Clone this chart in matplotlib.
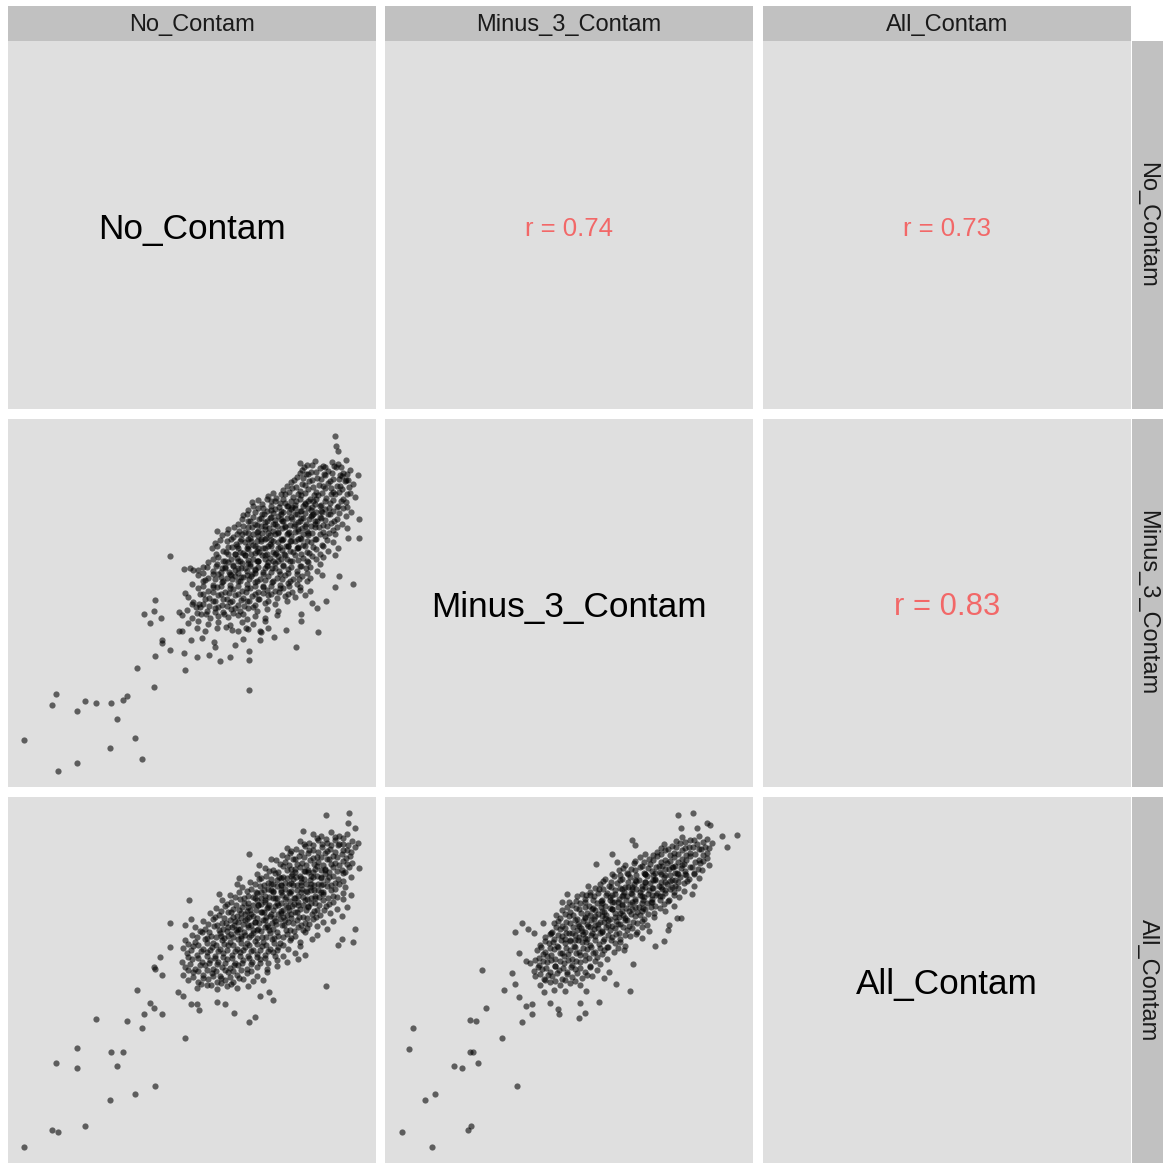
import numpy as np
import matplotlib
matplotlib.use("Agg")
import matplotlib.pyplot as plt

# variable names (strip labels + diagonal labels)
VARS = ["No_Contam", "Minus_3_Contam", "All_Contam"]

# correlations shown in the upper triangle
R_12 = 0.74
R_13 = 0.73
R_23 = 0.83

# scatter points (arbitrary 0-110 scale, no ticks shown)
# No_Contam (x) vs Minus_3_Contam (y)
nc_m3_points = [
    (98.0, 105.4), (98.5, 102.4), (99.0, 100.9), (48.7, 69.2), (62.7, 76.9), (105.0, 93.6),
    (105.3, 80.4), (105.3, 74.8), (103.4, 60.8), (93.0, 46.4), (86.3, 42.1), (72.2, 29.0),
    (72.3, 38.0), (72.2, 40.9), (63.7, 37.8), (66.6, 39.0), (60.4, 39.7), (56.8, 38.9),
    (53.0, 35.0), (52.8, 40.2), (48.6, 41.0), (44.1, 39.3), (46.1, 43.1), (46.1, 44.1),
    (43.7, 30.0), (38.7, 35.6), (44.2, 56.1), (43.7, 52.7), (40.7, 52.0), (42.6, 49.3),
    (45.8, 50.8), (14.4, 27.8), (13.2, 24.5), (20.7, 22.9), (23.2, 25.7), (26.5, 25.1),
    (31.0, 25.3), (34.5, 26.2), (35.8, 27.2), (32.6, 20.5), (38.1, 14.8), (30.7, 11.7),
    (40.3, 8.3), (20.6, 7.1), (15.0, 4.8), (4.7, 14.0), (79.8, 44.9), (83.3, 47.1),
    (88.0, 49.7), (87.8, 51.9), (95.3, 55.9), (98.0, 60.0), (99.2, 63.2), (91.3, 55.3),
    (92.7, 53.6), (51.3, 46.7), (52.1, 46.7), (54.8, 44.2), (58.3, 44.7), (62.0, 42.1),
    (61.7, 43.4), (65.5, 47.9), (68.0, 42.7), (70.5, 44.4), (75.7, 44.1), (76.0, 46.4),
    (78.1, 47.6), (71.4, 47.7), (69.0, 46.9), (51.2, 52.5), (53.0, 58.1), (52.8, 65.4),
    (54.6, 65.7), (55.1, 54.9), (57.1, 65.1), (57.4, 54.9),
    (87.5, 97.3), (89.6, 96.5), (92.1, 97.8), (94.4, 96.2), (97.2, 97.6), (99.1, 96.8), (101.4, 98.1),
    (88.2, 95.1), (90.8, 94.6), (93.6, 95.7), (96.0, 94.8), (98.4, 95.9), (100.6, 94.3), (102.7, 95.2),
    (86.8, 93.0), (89.4, 93.9), (92.6, 92.8), (95.1, 93.6), (97.4, 92.5), (100.2, 93.4), (102.1, 92.2),
    (84.9, 91.6), (88.1, 90.9), (90.4, 91.8), (93.2, 90.6), (96.1, 91.3), (98.6, 90.4), (101.0, 91.7),
    (103.6, 90.8), (82.4, 89.0), (85.1, 89.8), (87.6, 88.7), (90.1, 89.5), (92.4, 88.4), (95.2, 89.7),
    (97.6, 88.6), (100.1, 89.3), (102.6, 88.1),
    (78.1, 87.2), (80.4, 86.6), (83.1, 87.8), (85.6, 86.9), (88.0, 87.6), (90.6, 86.3), (93.1, 87.5),
    (95.4, 86.8), (98.1, 87.9), (100.4, 86.5), (104.1, 87.0),
    (73.2, 85.6), (76.1, 84.8), (78.9, 85.9), (81.6, 85.1), (84.1, 84.4), (86.4, 85.7), (89.1, 84.9),
    (91.6, 85.8), (94.0, 84.6), (96.6, 85.3), (99.1, 84.2), (101.5, 85.6),
    (72.1, 83.0), (75.0, 83.8), (77.6, 82.7), (80.1, 83.5), (82.4, 82.6), (85.1, 83.9), (87.6, 82.9),
    (90.0, 83.6), (92.5, 82.4), (95.1, 83.3), (97.6, 82.8), (100.4, 83.7), (103.0, 82.5),
    (70.6, 81.7), (73.4, 80.9), (76.1, 81.8), (78.6, 80.6), (81.0, 81.4), (83.6, 80.8), (86.1, 81.9),
    (88.4, 80.7), (91.1, 81.5), (93.6, 80.9), (96.0, 81.8), (98.6, 80.5), (101.4, 81.2),
    (69.1, 79.0), (71.9, 79.8), (74.6, 78.7), (77.1, 79.6), (79.4, 78.9), (82.1, 79.9), (84.6, 78.6),
    (87.1, 79.4), (89.4, 78.8), (92.1, 79.7), (94.6, 78.5), (97.0, 79.3), (100.1, 78.9),
    (66.1, 77.5), (69.4, 76.8), (72.1, 77.9), (74.6, 76.6), (77.0, 77.4), (79.6, 76.9), (82.1, 77.8),
    (84.4, 76.5), (87.1, 77.3), (89.6, 76.7), (92.0, 77.9), (94.6, 76.4), (97.4, 77.2), (101.6, 77.6),
    (64.1, 75.6), (67.4, 74.9), (70.1, 75.8), (72.6, 74.6), (75.1, 75.4), (77.4, 74.8), (80.1, 75.9),
    (82.6, 74.5), (85.0, 75.3), (87.6, 74.7), (90.1, 75.7), (92.4, 74.4), (95.1, 75.2), (98.0, 75.8),
    (101.9, 74.6),
    (62.1, 73.1), (65.6, 73.9), (68.4, 72.8), (71.1, 73.6), (73.6, 72.6), (76.0, 73.8), (78.6, 72.9),
    (81.1, 73.5), (83.4, 72.4), (86.1, 73.7), (88.6, 72.7), (91.0, 73.4), (94.1, 72.5), (97.6, 73.6),
    (61.1, 71.6), (64.4, 70.8), (67.1, 71.9), (69.6, 70.6), (72.0, 71.3), (74.6, 70.9), (77.1, 71.8),
    (79.4, 70.4), (82.1, 71.2), (84.6, 70.7), (87.0, 71.7), (89.6, 70.5), (92.4, 71.4), (96.1, 70.8),
    (99.0, 71.6),
    (63.1, 69.0), (66.0, 69.8), (68.6, 68.7), (71.1, 69.5), (73.4, 68.5), (76.1, 69.7), (78.6, 68.8),
    (81.0, 69.4), (83.6, 68.4), (86.1, 69.6), (88.4, 68.6), (91.1, 69.3), (94.6, 68.9), (98.1, 69.7),
    (60.1, 67.6), (62.6, 66.9), (65.1, 67.8), (67.4, 66.6), (70.1, 67.3), (72.6, 66.8), (75.0, 67.9),
    (77.6, 66.5), (80.1, 67.2), (82.4, 66.7), (85.1, 67.7), (87.6, 66.4), (90.0, 67.4), (93.6, 66.9),
    (55.6, 65.2), (58.4, 65.9), (61.6, 64.8), (64.1, 65.6), (66.4, 64.6), (69.1, 65.8), (71.6, 64.9),
    (74.0, 65.5), (76.6, 64.5), (79.1, 65.7), (81.4, 64.7), (84.1, 65.4), (86.6, 64.8), (89.4, 65.6),
    (92.6, 64.9),
    (57.1, 63.6), (60.1, 62.8), (63.0, 63.9), (65.6, 62.6), (68.1, 63.4), (70.4, 62.9), (73.1, 63.8),
    (75.6, 62.5), (78.0, 63.3), (80.6, 62.7), (83.1, 63.7), (85.4, 62.4), (88.1, 63.2), (90.6, 62.8),
    (94.1, 63.6),
    (55.1, 61.0), (58.6, 61.8), (61.4, 60.7), (64.1, 61.6), (66.6, 60.6), (69.0, 61.7), (71.6, 60.8),
    (74.1, 61.4), (76.4, 60.4), (79.1, 61.6), (81.6, 60.7), (84.0, 61.3), (86.6, 60.9), (89.6, 61.7),
    (57.1, 59.6), (60.0, 58.8), (62.6, 59.9), (65.1, 58.6), (67.4, 59.3), (70.1, 58.9), (72.6, 59.8),
    (75.0, 58.5), (77.6, 59.2), (80.1, 58.7), (82.4, 59.7), (85.1, 58.4), (87.6, 59.1), (90.6, 58.8),
    (54.1, 57.0), (57.6, 57.8), (60.4, 56.7), (63.1, 57.5), (65.6, 56.5), (68.0, 57.7), (70.6, 56.8),
    (73.1, 57.4), (75.4, 56.4), (78.1, 57.6), (80.6, 56.6), (83.0, 57.3), (86.1, 56.9), (89.1, 57.6),
    (55.6, 55.6), (58.6, 54.8), (61.4, 55.9), (64.1, 54.6), (66.6, 55.4), (69.0, 54.7), (71.6, 55.8),
    (74.1, 54.5), (77.0, 55.2), (80.1, 54.9), (83.6, 55.7),
    (53.6, 53.2), (56.4, 53.9), (59.6, 52.8), (62.1, 53.7), (64.6, 52.6), (67.0, 53.5), (69.6, 52.9),
    (72.1, 53.8), (74.6, 52.7), (77.6, 53.4), (81.1, 52.8),
    (52.1, 51.6), (55.1, 50.8), (58.0, 51.9), (60.6, 50.6), (63.1, 51.4), (66.0, 50.9), (69.1, 51.7),
    (71.6, 50.5), (74.1, 51.3), (77.1, 50.8), (80.6, 51.6),
    (54.1, 49.1), (57.0, 49.8), (60.1, 48.9), (63.0, 49.6), (66.6, 48.7), (70.1, 49.5), (73.6, 49.0),
    (77.1, 49.7), (56.6, 47.6), (59.1, 46.9), (62.6, 47.8), (67.1, 47.1), (72.1, 47.4), (75.6, 46.8),
    # denser core
    (88.8, 96.0), (91.3, 96.5), (95.2, 95.9), (97.8, 96.4), (100.0, 96.1),
    (87.6, 94.3), (90.1, 93.8), (92.4, 94.4), (94.8, 93.9), (97.3, 94.2), (99.6, 93.7), (101.6, 94.0),
    (85.9, 92.1), (88.6, 92.6), (91.3, 92.0), (94.0, 92.4), (96.5, 91.9), (99.2, 92.5), (101.4, 92.1),
    (83.6, 90.4), (86.4, 89.9), (89.0, 90.5), (91.5, 90.0), (94.4, 90.3), (97.0, 89.8), (99.6, 90.4),
    (102.2, 90.0), (79.6, 88.3), (81.9, 87.9), (84.3, 88.4), (86.9, 87.8), (89.2, 88.2), (91.8, 87.7),
    (94.2, 88.3), (96.8, 87.9), (99.2, 88.4), (101.6, 87.8),
    (75.0, 86.1), (77.6, 86.5), (80.1, 85.9), (82.6, 86.4), (85.0, 85.8), (87.6, 86.3), (90.1, 85.9),
    (92.4, 86.4), (95.1, 85.8), (97.6, 86.2), (100.0, 85.9),
    (73.6, 84.3), (76.4, 83.8), (78.9, 84.4), (81.3, 83.9), (83.6, 84.2), (86.1, 83.7), (88.4, 84.3),
    (91.1, 83.9), (93.6, 84.4), (96.2, 83.8), (98.6, 84.1), (101.6, 83.9),
    (71.6, 82.0), (74.2, 82.4), (76.9, 81.9), (79.4, 82.3), (81.8, 81.8), (84.2, 82.4), (86.6, 81.9),
    (89.1, 82.2), (91.6, 81.8), (94.2, 82.4), (96.6, 81.9), (99.4, 82.3),
    (70.2, 80.3), (72.6, 79.9), (75.2, 80.4), (77.8, 79.8), (80.2, 80.2), (82.6, 79.7), (85.2, 80.3),
    (87.6, 79.9), (90.2, 80.4), (92.6, 79.8), (95.2, 80.2), (97.8, 79.9),
    (67.8, 78.0), (70.6, 78.4), (73.2, 77.9), (75.8, 78.3), (78.2, 77.8), (80.8, 78.4), (83.2, 77.9),
    (85.8, 78.2), (88.2, 77.8), (90.8, 78.4), (93.2, 77.9), (95.8, 78.3), (98.6, 78.0),
    (65.6, 76.3), (68.6, 75.9), (71.2, 76.4), (73.6, 75.8), (76.1, 76.2), (78.6, 75.7), (81.1, 76.3),
    (83.6, 75.9), (86.1, 76.4), (88.6, 75.8), (91.1, 76.2), (93.6, 75.9), (96.4, 76.3),
    (63.6, 74.0), (66.8, 74.4), (69.6, 73.9), (72.1, 74.3), (74.6, 73.8), (77.1, 74.4), (79.6, 73.9),
    (82.1, 74.2), (84.6, 73.8), (87.1, 74.4), (89.6, 73.9), (92.1, 74.3), (95.6, 74.0),
    (62.8, 72.3), (66.0, 71.9), (68.8, 72.4), (71.6, 71.8), (74.0, 72.2), (76.6, 71.7), (79.0, 72.3),
    (81.6, 71.9), (84.0, 72.4), (86.6, 71.8), (89.0, 72.2), (91.6, 71.9), (94.6, 72.3),
    (62.4, 70.0), (65.4, 70.4), (68.0, 69.9), (70.4, 70.3), (72.8, 69.8), (75.4, 70.4), (77.8, 69.9),
    (80.4, 70.2), (82.8, 69.8), (85.4, 70.4), (87.8, 69.9), (90.4, 70.3), (93.6, 70.0),
    (61.6, 68.3), (64.4, 67.9), (67.0, 68.4), (69.6, 67.8), (72.0, 68.2), (74.6, 67.7), (77.0, 68.3),
    (79.6, 67.9), (82.0, 68.4), (84.6, 67.8), (87.0, 68.2), (89.6, 67.9), (92.4, 68.3),
    (59.6, 66.0), (62.4, 66.4), (65.0, 65.9), (67.6, 66.3), (70.0, 65.8), (72.6, 66.4), (75.0, 65.9),
    (77.6, 66.2), (80.0, 65.8), (82.6, 66.4), (85.0, 65.9), (87.8, 66.3), (90.6, 66.0),
    (58.6, 64.3), (61.4, 63.9), (64.0, 64.4), (66.6, 63.8), (69.0, 64.2), (71.6, 63.7), (74.0, 64.3),
    (76.6, 63.9), (79.0, 64.4), (81.6, 63.8), (84.0, 64.2), (86.6, 63.9), (89.6, 64.3),
    (59.2, 62.0), (62.0, 62.4), (64.6, 61.9), (67.2, 62.3), (69.6, 61.8), (72.2, 62.4), (74.6, 61.9),
    (77.2, 62.2), (79.6, 61.8), (82.2, 62.4), (84.6, 61.9), (87.4, 62.3),
    (58.6, 60.3), (61.4, 59.9), (64.0, 60.4), (66.6, 59.8), (69.0, 60.2), (71.6, 59.7), (74.0, 60.3),
    (76.6, 59.9), (79.0, 60.4), (81.6, 59.8), (84.4, 60.2), (87.6, 59.9),
    (58.6, 58.0), (61.4, 58.4), (64.0, 57.9), (66.4, 58.3), (69.0, 57.8), (71.4, 58.4), (74.0, 57.9),
    (76.4, 58.2), (79.0, 57.8), (81.4, 58.4), (84.0, 57.9),
    (59.0, 56.3), (62.0, 55.9), (64.6, 56.4), (67.2, 55.8), (69.8, 56.2), (72.4, 55.7), (75.0, 56.3),
    (78.0, 55.9), (57.6, 54.0), (60.4, 54.4), (63.0, 53.9), (65.6, 54.3), (68.2, 53.8), (70.8, 54.4),
    (73.6, 53.9), (56.6, 52.3), (59.4, 51.9), (62.0, 52.4), (64.8, 51.8), (67.6, 52.2), (70.4, 51.9),
    # darkest centre
    (83.0, 85.2), (86.0, 84.7), (89.0, 85.3), (92.0, 84.8),
    (79.0, 83.1), (82.0, 82.7), (85.0, 83.3), (88.0, 82.8), (91.0, 83.2), (94.0, 82.9),
    (76.0, 80.6), (79.0, 81.1), (82.0, 80.5), (85.0, 81.0), (88.0, 80.6), (91.0, 81.2), (94.0, 80.7),
    (74.0, 78.8), (77.0, 78.3), (80.0, 78.9), (83.0, 78.4), (86.0, 78.8), (89.0, 78.3), (92.0, 78.9),
    (72.0, 76.2), (75.0, 76.7), (78.0, 76.1), (81.0, 76.6), (84.0, 76.2), (87.0, 76.7), (90.0, 76.3),
    (70.0, 74.4), (73.0, 73.9), (76.0, 74.5), (79.0, 74.0), (82.0, 74.4), (85.0, 73.9), (88.0, 74.5),
    (69.0, 71.8), (72.0, 72.3), (75.0, 71.7), (78.0, 72.2), (81.0, 71.8), (84.0, 72.3), (87.0, 71.9),
    (68.0, 70.0), (71.0, 69.5), (74.0, 70.1), (77.0, 69.6), (80.0, 70.0), (83.0, 69.5),
    (66.0, 67.4), (69.0, 67.9), (72.0, 67.3), (75.0, 67.8), (78.0, 67.4), (81.0, 67.9),
    (65.0, 65.6), (68.0, 65.1), (71.0, 65.7), (74.0, 65.2), (77.0, 65.6),
    (64.0, 63.0), (67.0, 63.5), (70.0, 62.9), (73.0, 63.4),
]

# No_Contam (x) vs All_Contam (y)
nc_all_points = [
    (95.4, 104.9), (102.4, 105.5), (102.0, 102.7), (104.2, 101.1), (105.0, 96.4), (105.3, 89.0),
    (88.4, 100.2), (72.3, 93.3), (79.0, 91.7), (75.2, 89.9), (69.4, 86.1), (68.6, 84.1),
    (63.3, 81.2), (54.4, 79.2), (48.6, 72.5), (53.1, 71.9), (54.8, 73.7), (48.7, 65.3),
    (45.7, 62.1), (43.8, 59.2), (44.1, 58.4), (46.1, 56.8), (38.7, 52.2), (42.5, 48.4),
    (43.8, 46.9), (40.7, 44.9), (46.1, 44.9), (35.8, 42.9), (40.3, 40.8), (26.5, 43.3),
    (53.0, 37.6), (20.7, 34.6), (31.0, 33.6), (34.6, 33.6), (14.5, 30.2), (20.7, 28.6),
    (32.7, 29.4), (44.1, 23.1), (38.1, 20.9), (30.7, 18.9), (23.2, 11.1), (13.3, 10.1),
    (15.1, 9.3), (4.7, 4.9), (95.5, 53.5), (72.3, 42.6), (74.1, 43.9), (67.9, 45.2),
    (79.5, 49.2), (78.2, 51.5), (75.5, 50.5), (54.8, 48.1), (57.3, 46.3), (56.7, 47.9),
    (51.0, 51.6), (52.6, 50.4), (103.4, 66.6), (104.0, 70.7), (102.8, 80.9), (98.9, 65.9),
    (100.3, 67.6), (65.0, 48.1), (62.7, 48.7),
    (91.5, 99.3), (94.0, 98.5), (96.8, 99.7), (99.2, 98.6), (101.6, 99.1),
    (87.6, 97.0), (90.4, 96.4), (92.9, 97.5), (95.6, 96.6), (98.1, 97.3), (100.6, 96.2), (103.1, 97.0),
    (83.6, 95.1), (86.4, 94.6), (89.1, 95.6), (91.6, 94.4), (94.1, 95.3), (96.6, 94.7), (99.0, 95.8),
    (101.6, 94.5), (104.0, 95.2),
    (82.1, 92.8), (84.6, 93.6), (87.4, 92.6), (90.0, 93.4), (92.6, 92.4), (95.0, 93.6), (97.6, 92.7),
    (100.1, 93.3), (102.6, 92.5),
    (80.4, 91.4), (83.0, 90.7), (85.6, 91.7), (88.1, 90.5), (90.6, 91.3), (93.1, 90.8), (95.6, 91.8),
    (98.0, 90.6), (100.6, 91.2), (103.1, 90.4),
    (77.1, 89.0), (79.6, 88.4), (82.4, 89.5), (85.0, 88.6), (87.6, 89.3), (90.1, 88.5), (92.6, 89.6),
    (95.1, 88.7), (97.6, 89.2), (100.1, 88.3), (102.4, 89.4),
    (74.6, 87.2), (77.4, 86.6), (80.1, 87.6), (82.6, 86.4), (85.1, 87.3), (87.6, 86.7), (90.0, 87.8),
    (92.6, 86.5), (95.1, 87.1), (97.6, 86.6), (100.4, 87.5), (102.9, 86.3),
    (72.6, 84.8), (75.4, 85.6), (78.1, 84.6), (80.6, 85.4), (83.1, 84.4), (85.6, 85.7), (88.0, 84.8),
    (90.6, 85.3), (93.1, 84.3), (95.6, 85.5), (98.1, 84.6), (100.6, 85.2),
    (70.1, 83.4), (73.0, 82.6), (75.6, 83.7), (78.1, 82.8), (80.6, 83.5), (83.1, 82.5), (85.6, 83.8),
    (88.1, 82.7), (90.6, 83.3), (93.0, 82.4), (95.6, 83.6), (98.1, 82.6), (101.1, 83.2),
    (66.6, 80.8), (69.4, 81.6), (72.1, 80.6), (74.6, 81.4), (77.1, 80.5), (79.6, 81.7), (82.1, 80.7),
    (84.6, 81.3), (87.1, 80.4), (89.6, 81.6), (92.1, 80.6), (94.6, 81.2), (97.4, 80.4), (100.4, 81.5),
    (64.1, 79.2), (66.9, 78.6), (69.6, 79.6), (72.1, 78.4), (74.6, 79.3), (77.1, 78.7), (79.6, 79.8),
    (82.0, 78.5), (84.6, 79.1), (87.1, 78.6), (89.6, 79.7), (92.1, 78.3), (94.6, 79.2), (97.6, 78.8),
    (100.6, 79.5),
    (62.4, 76.9), (65.1, 77.6), (67.6, 76.5), (70.1, 77.3), (72.6, 76.4), (75.1, 77.7), (77.6, 76.8),
    (80.1, 77.4), (82.6, 76.3), (85.1, 77.5), (87.6, 76.6), (90.1, 77.2), (92.6, 76.4), (95.4, 77.6),
    (98.6, 76.7), (101.6, 77.3),
    (60.6, 75.4), (63.4, 74.7), (66.1, 75.7), (68.6, 74.5), (71.1, 75.2), (73.6, 74.6), (76.1, 75.8),
    (78.6, 74.4), (81.1, 75.1), (83.6, 74.7), (86.1, 75.6), (88.6, 74.3), (91.1, 75.2), (93.6, 74.8),
    (96.6, 75.5), (100.1, 74.6),
    (58.6, 72.9), (61.4, 73.6), (64.1, 72.5), (66.6, 73.4), (69.1, 72.6), (71.6, 73.7), (74.1, 72.8),
    (76.6, 73.3), (79.1, 72.4), (81.6, 73.5), (84.1, 72.7), (86.6, 73.2), (89.1, 72.4), (91.6, 73.6),
    (94.4, 72.8), (97.6, 73.1),
    (56.1, 71.3), (59.1, 70.6), (61.9, 71.6), (64.6, 70.5), (67.1, 71.2), (69.6, 70.7), (72.1, 71.8),
    (74.6, 70.4), (77.1, 71.1), (79.6, 70.6), (82.1, 71.7), (84.6, 70.3), (87.1, 71.2), (89.6, 70.8),
    (92.6, 71.5), (95.6, 70.6),
    (55.1, 68.8), (58.1, 69.6), (60.9, 68.6), (63.6, 69.4), (66.1, 68.4), (68.6, 69.7), (71.1, 68.8),
    (73.6, 69.3), (76.1, 68.3), (78.6, 69.5), (81.1, 68.6), (83.6, 69.2), (86.1, 68.5), (89.1, 69.6),
    (92.6, 68.7),
    (53.1, 67.3), (56.1, 66.6), (59.1, 67.6), (61.6, 66.5), (64.1, 67.2), (66.6, 66.6), (69.1, 67.7),
    (71.6, 66.4), (74.1, 67.1), (76.6, 66.7), (79.1, 67.6), (81.6, 66.3), (84.6, 67.2), (87.6, 66.8),
    (91.1, 67.5),
    (52.6, 64.8), (55.6, 65.6), (58.4, 64.5), (61.1, 65.3), (63.6, 64.6), (66.1, 65.7), (68.6, 64.7),
    (71.1, 65.2), (73.6, 64.4), (76.1, 65.5), (78.6, 64.6), (81.1, 65.1), (84.1, 64.5), (87.6, 65.4),
    (53.6, 63.2), (56.6, 62.6), (59.6, 63.6), (62.1, 62.5), (64.6, 63.3), (67.1, 62.7), (69.6, 63.7),
    (72.1, 62.4), (74.6, 63.1), (77.1, 62.7), (79.6, 63.6), (82.6, 62.5), (86.1, 63.2), (89.1, 62.6),
    (52.1, 60.6), (55.1, 61.4), (58.1, 60.5), (60.6, 61.3), (63.1, 60.7), (65.6, 61.6), (68.1, 60.4),
    (70.6, 61.2), (73.1, 60.6), (75.6, 61.5), (78.1, 60.3), (80.6, 61.1), (83.6, 60.7), (87.1, 61.4),
    (53.1, 59.2), (56.1, 58.6), (59.1, 59.6), (61.6, 58.4), (64.1, 59.1), (66.6, 58.7), (69.1, 59.7),
    (71.6, 58.5), (74.6, 59.2), (77.6, 58.6), (80.6, 59.4),
    (52.6, 56.8), (55.6, 57.5), (58.6, 56.6), (61.1, 57.3), (63.6, 56.5), (66.1, 57.6), (68.6, 56.7),
    (71.6, 57.2), (74.6, 56.4), (77.6, 57.5),
    (54.1, 55.3), (57.1, 54.6), (60.1, 55.6), (62.6, 54.5), (65.1, 55.2), (67.6, 54.7), (70.6, 55.6),
    (73.6, 54.8), (76.6, 55.3),
    (56.6, 52.9), (59.6, 53.6), (62.6, 52.6), (65.6, 53.3), (68.6, 52.7), (72.1, 53.4),
    # denser core
    (92.6, 98.1), (95.4, 97.8), (98.0, 98.3), (100.4, 97.9),
    (88.9, 96.1), (91.6, 95.8), (94.3, 96.3), (96.9, 95.9), (99.4, 96.2), (101.9, 95.8),
    (85.0, 94.1), (87.8, 93.8), (90.4, 94.3), (92.9, 93.9), (95.6, 94.2), (98.0, 93.8), (100.4, 94.3),
    (102.8, 93.9), (83.6, 92.2), (86.0, 91.8), (88.8, 92.3), (91.4, 91.9), (93.8, 92.2), (96.4, 91.8),
    (98.8, 92.3), (101.4, 91.9),
    (81.7, 90.1), (84.3, 89.8), (86.8, 90.3), (89.4, 89.9), (91.8, 90.2), (94.4, 89.8), (96.8, 90.3),
    (99.4, 89.9), (101.8, 90.2),
    (78.4, 88.1), (81.0, 87.8), (83.6, 88.3), (86.2, 87.9), (88.8, 88.2), (91.4, 87.8), (93.8, 88.3),
    (96.4, 87.9), (98.8, 88.2), (101.2, 87.8),
    (76.0, 86.1), (78.8, 85.8), (81.4, 86.3), (83.8, 85.9), (86.4, 86.2), (88.8, 85.8), (91.4, 86.3),
    (93.8, 85.9), (96.4, 86.2), (99.0, 85.8),
    (74.0, 84.2), (76.8, 83.8), (79.4, 84.3), (81.8, 83.9), (84.4, 84.2), (86.8, 83.8), (89.4, 84.3),
    (91.8, 83.9), (94.4, 84.2), (96.8, 83.8), (99.4, 84.3),
    (71.6, 82.1), (74.4, 81.8), (76.8, 82.3), (79.4, 81.9), (81.8, 82.2), (84.4, 81.8), (86.8, 82.3),
    (89.4, 81.9), (91.8, 82.2), (94.4, 81.8), (96.8, 82.3),
    (68.0, 80.1), (70.8, 79.8), (73.4, 80.3), (75.8, 79.9), (78.4, 80.2), (80.8, 79.8), (83.4, 80.3),
    (85.8, 79.9), (88.4, 80.2), (90.8, 79.8), (93.4, 80.3), (96.0, 79.9), (98.8, 80.2),
    (65.6, 78.1), (68.4, 77.8), (70.8, 78.3), (73.4, 77.9), (75.8, 78.2), (78.4, 77.8), (80.8, 78.3),
    (83.4, 77.9), (85.8, 78.2), (88.4, 77.8), (90.8, 78.3), (93.4, 77.9), (96.4, 78.2),
    (63.8, 76.1), (66.8, 75.8), (69.4, 76.3), (71.8, 75.9), (74.4, 76.2), (76.8, 75.8), (79.4, 76.3),
    (81.8, 75.9), (84.4, 76.2), (86.8, 75.8), (89.4, 76.3), (91.8, 75.9), (94.8, 76.2),
    (62.0, 74.1), (64.8, 73.8), (67.4, 74.3), (69.8, 73.9), (72.4, 74.2), (74.8, 73.8), (77.4, 74.3),
    (79.8, 73.9), (82.4, 74.2), (84.8, 73.8), (87.4, 74.3), (89.8, 73.9), (92.4, 74.2),
    (60.0, 72.1), (62.8, 71.8), (65.4, 72.3), (67.8, 71.9), (70.4, 72.2), (72.8, 71.8), (75.4, 72.3),
    (77.8, 71.9), (80.4, 72.2), (82.8, 71.8), (85.4, 72.3), (87.8, 71.9), (90.4, 72.2),
    (57.6, 70.1), (60.4, 69.8), (63.2, 70.3), (65.8, 69.9), (68.4, 70.2), (70.8, 69.8), (73.4, 70.3),
    (75.8, 69.9), (78.4, 70.2), (80.8, 69.8), (83.4, 70.3), (85.8, 69.9), (88.4, 70.2),
    (56.6, 68.1), (59.6, 67.8), (62.4, 68.3), (64.8, 67.9), (67.4, 68.2), (69.8, 67.8), (72.4, 68.3),
    (74.8, 67.9), (77.4, 68.2), (79.8, 67.8), (82.4, 68.3), (85.0, 67.9),
    (54.1, 66.1), (57.0, 65.8), (59.8, 66.3), (62.4, 65.9), (64.8, 66.2), (67.4, 65.8), (69.8, 66.3),
    (72.4, 65.9), (74.8, 66.2), (77.4, 65.8), (79.8, 66.3), (82.6, 65.9),
    (55.0, 64.1), (58.0, 63.8), (60.6, 64.3), (63.0, 63.9), (65.6, 64.2), (68.0, 63.8), (70.6, 64.3),
    (73.0, 63.9), (75.6, 64.2), (78.0, 63.8), (80.6, 64.3),
    (54.0, 62.1), (57.0, 61.8), (59.6, 62.3), (62.2, 61.9), (64.6, 62.2), (67.2, 61.8), (69.6, 62.3),
    (72.2, 61.9), (74.6, 62.2), (77.2, 61.8), (80.0, 62.3),
    (54.6, 60.1), (57.6, 59.8), (60.2, 60.3), (62.8, 59.9), (65.2, 60.2), (67.8, 59.8), (70.2, 60.3),
    (72.8, 59.9), (75.6, 60.2), (54.0, 58.1), (57.0, 57.8), (59.8, 58.3), (62.4, 57.9), (65.0, 58.2),
    (67.4, 57.8), (70.0, 58.3), (73.0, 57.9), (55.6, 56.1), (58.6, 55.8), (61.4, 56.3), (64.0, 55.9),
    (66.6, 56.2), (69.4, 55.8), (58.0, 54.1), (61.0, 53.8), (64.0, 54.3), (67.0, 53.9),
    # darkest centre
    (86.0, 88.7), (89.0, 88.2), (92.0, 88.8), (95.0, 88.3),
    (82.0, 86.1), (85.0, 86.6), (88.0, 86.0), (91.0, 86.5), (94.0, 86.2),
    (79.0, 84.3), (82.0, 83.8), (85.0, 84.4), (88.0, 83.9), (91.0, 84.3), (94.0, 83.8),
    (76.0, 81.7), (79.0, 82.2), (82.0, 81.6), (85.0, 82.1), (88.0, 81.7), (91.0, 82.2), (94.0, 81.8),
    (74.0, 79.9), (77.0, 79.4), (80.0, 80.0), (83.0, 79.5), (86.0, 79.9), (89.0, 79.4), (92.0, 80.0),
    (72.0, 77.3), (75.0, 77.8), (78.0, 77.2), (81.0, 77.7), (84.0, 77.3), (87.0, 77.8), (90.0, 77.4),
    (70.0, 75.5), (73.0, 75.0), (76.0, 75.6), (79.0, 75.1), (82.0, 75.5), (85.0, 75.0),
    (68.0, 72.9), (71.0, 73.4), (74.0, 72.8), (77.0, 73.3), (80.0, 72.9), (83.0, 73.4),
    (66.0, 71.1), (69.0, 70.6), (72.0, 71.2), (75.0, 70.7), (78.0, 71.1),
    (64.0, 68.5), (67.0, 69.0), (70.0, 68.4), (73.0, 68.9),
]

# Minus_3_Contam (x) vs All_Contam (y)
m3_all_points = [
    (87.9, 104.9), (92.5, 105.5), (96.5, 102.7), (97.5, 101.9), (88.9, 101.1), (93.6, 100.9),
    (101.2, 98.5), (105.7, 98.8), (102.7, 95.4), (74.1, 97.5), (75.0, 95.8), (68.1, 93.3),
    (63.3, 90.1), (69.7, 90.9), (60.8, 83.7), (54.5, 81.2), (60.4, 80.8), (53.2, 78.8),
    (55.3, 78.8), (51.2, 74.9), (47.3, 72.5), (41.1, 72.5), (39.1, 69.7), (42.8, 70.7),
    (44.6, 69.4), (49.8, 69.4), (40.3, 63.4), (42.3, 60.9), (29.2, 58.3), (38.0, 57.3),
    (35.8, 52.2), (39.1, 53.9), (40.2, 50.0), (42.2, 47.5), (44.2, 48.0), (44.1, 44.9),
    (41.1, 42.5), (30.2, 46.9), (25.4, 43.2), (27.4, 42.8), (35.2, 37.6), (8.5, 40.8),
    (7.2, 34.5), (25.5, 33.6), (26.3, 33.6), (20.7, 29.4), (23.1, 28.6), (28.0, 30.1),
    (39.6, 23.1), (15.1, 20.9), (11.9, 18.9), (24.8, 10.1), (25.9, 11.1), (5.0, 9.3),
    (14.1, 4.9), (49.5, 48.2), (52.0, 46.4), (52.1, 44.9), (58.1, 43.8), (60.0, 45.3),
    (58.5, 48.4), (64.2, 48.5), (73.5, 51.8), (74.4, 59.9), (69.2, 54.0), (65.7, 55.9),
    (60.4, 51.8), (85.3, 71.7), (85.0, 70.4), (83.8, 66.9), (81.1, 65.4), (92.0, 81.1),
    (88.7, 74.0), (87.7, 73.9),
    (89.1, 98.2), (91.6, 97.5), (94.1, 98.6), (96.6, 97.6),
    (83.6, 96.2), (86.1, 95.6), (88.6, 96.6), (91.1, 95.4), (93.6, 96.1), (96.1, 95.3), (98.1, 96.4),
    (81.6, 93.8), (84.1, 94.5), (86.6, 93.5), (89.1, 94.3), (91.6, 93.4), (94.1, 94.6), (96.6, 93.6),
    (76.6, 92.3), (79.1, 91.6), (81.6, 92.5), (84.1, 91.4), (86.6, 92.2), (89.1, 91.7), (91.6, 92.6),
    (94.1, 91.5), (96.6, 92.1),
    (72.1, 89.8), (74.6, 90.5), (77.1, 89.5), (79.6, 90.3), (82.1, 89.6), (84.6, 90.6), (87.1, 89.7),
    (89.6, 90.2), (92.1, 89.4), (94.6, 90.4), (97.1, 89.8),
    (70.1, 88.4), (72.6, 87.6), (75.1, 88.5), (77.6, 87.5), (80.1, 88.2), (82.6, 87.7), (85.1, 88.6),
    (87.6, 87.4), (90.1, 88.1), (92.6, 87.6), (95.1, 88.5),
    (66.1, 85.8), (68.6, 86.5), (71.1, 85.6), (73.6, 86.3), (76.1, 85.4), (78.6, 86.6), (81.1, 85.7),
    (83.6, 86.2), (86.1, 85.3), (88.6, 86.4), (91.1, 85.6), (94.1, 86.1),
    (64.6, 84.3), (67.1, 83.6), (69.6, 84.6), (72.1, 83.4), (74.6, 84.2), (77.1, 83.7), (79.6, 84.6),
    (82.1, 83.5), (84.6, 84.1), (87.1, 83.6), (89.6, 84.4), (92.6, 83.7),
    (61.6, 81.8), (64.1, 82.5), (66.6, 81.5), (69.1, 82.3), (71.6, 81.6), (74.1, 82.6), (76.6, 81.7),
    (79.1, 82.2), (81.6, 81.3), (84.1, 82.4), (86.6, 81.6), (89.6, 82.1),
    (57.6, 80.4), (60.1, 79.6), (62.6, 80.5), (65.1, 79.4), (67.6, 80.2), (70.1, 79.7), (72.6, 80.6),
    (75.1, 79.5), (77.6, 80.1), (80.1, 79.6), (82.6, 80.5), (85.1, 79.4), (88.1, 80.2),
    (56.1, 77.7), (58.6, 78.4), (61.1, 77.5), (63.6, 78.3), (66.1, 77.6), (68.6, 78.6), (71.1, 77.7),
    (73.6, 78.2), (76.1, 77.3), (78.6, 78.4), (81.1, 77.6), (83.6, 78.1), (86.6, 77.5),
    (53.1, 76.3), (55.6, 75.6), (58.1, 76.5), (60.6, 75.4), (63.1, 76.2), (65.6, 75.7), (68.1, 76.6),
    (70.6, 75.5), (73.1, 76.1), (75.6, 75.6), (78.1, 76.5), (80.6, 75.3), (84.1, 76.1),
    (52.6, 73.8), (55.1, 74.5), (57.6, 73.5), (60.1, 74.3), (62.6, 73.6), (65.1, 74.6), (67.6, 73.7),
    (70.1, 74.2), (72.6, 73.3), (75.1, 74.4), (77.6, 73.6), (80.6, 74.1),
    (50.6, 72.3), (53.1, 71.6), (55.6, 72.5), (58.1, 71.4), (60.6, 72.2), (63.1, 71.7), (65.6, 72.6),
    (68.1, 71.5), (70.6, 72.1), (73.1, 71.6), (75.6, 72.4), (78.6, 71.7),
    (50.1, 69.8), (52.6, 70.5), (55.1, 69.5), (57.6, 70.3), (60.1, 69.6), (62.6, 70.6), (65.1, 69.7),
    (67.6, 70.2), (70.1, 69.3), (72.6, 70.4), (75.6, 69.6), (79.1, 70.1),
    (48.1, 68.3), (50.6, 67.6), (53.1, 68.5), (55.6, 67.4), (58.1, 68.2), (60.6, 67.7), (63.1, 68.6),
    (65.6, 67.5), (68.1, 68.1), (70.6, 67.6), (73.6, 68.4), (77.1, 67.8),
    (46.6, 65.8), (49.1, 66.5), (51.6, 65.5), (54.1, 66.3), (56.6, 65.6), (59.1, 66.6), (61.6, 65.7),
    (64.1, 66.2), (66.6, 65.3), (69.1, 66.4), (72.1, 65.6),
    (45.6, 64.3), (48.1, 63.6), (50.6, 64.5), (53.1, 63.4), (55.6, 64.2), (58.1, 63.7), (60.6, 64.6),
    (63.1, 63.5), (65.6, 64.1), (68.6, 63.6), (71.6, 64.4),
    (46.1, 61.8), (48.6, 62.5), (51.1, 61.5), (53.6, 62.3), (56.1, 61.6), (58.6, 62.6), (61.1, 61.7),
    (63.6, 62.2), (66.6, 61.4),
    (43.6, 60.3), (46.1, 59.6), (48.6, 60.5), (51.1, 59.4), (53.6, 60.2), (56.1, 59.7), (58.6, 60.6),
    (61.6, 59.5), (64.6, 60.1),
    (44.6, 57.8), (47.1, 58.5), (49.6, 57.5), (52.1, 58.3), (54.6, 57.6), (57.1, 58.4), (60.1, 57.7),
    (63.6, 58.2), (67.1, 57.6),
    (45.1, 56.3), (47.6, 55.6), (50.1, 56.5), (53.1, 55.4), (56.1, 56.2), (59.1, 55.7), (62.1, 56.4),
    (46.6, 53.8), (49.6, 54.5), (52.6, 53.6), (55.6, 54.3), (58.6, 53.7),
    (47.6, 51.6), (50.6, 52.3), (54.1, 51.8),
    # denser core
    (87.4, 97.1), (90.0, 96.8), (92.8, 97.3), (95.4, 96.9),
    (82.8, 95.1), (85.0, 94.8), (87.4, 95.3), (89.9, 94.9), (92.4, 95.2), (94.9, 94.8), (97.2, 95.1),
    (78.0, 93.1), (80.4, 92.8), (82.9, 93.3), (85.4, 92.9), (87.9, 93.2), (90.4, 92.8), (92.9, 93.3),
    (95.4, 92.9), (75.0, 91.1), (77.8, 90.8), (80.4, 91.3), (82.9, 90.9), (85.4, 91.2), (87.9, 90.8),
    (90.4, 91.3), (92.9, 90.9), (95.4, 91.2),
    (71.4, 89.1), (73.9, 88.8), (76.4, 89.3), (78.9, 88.9), (81.4, 89.2), (83.9, 88.8), (86.4, 89.3),
    (88.9, 88.9), (91.4, 89.2), (93.9, 88.8),
    (68.0, 87.1), (70.4, 86.8), (72.9, 87.3), (75.4, 86.9), (77.9, 87.2), (80.4, 86.8), (82.9, 87.3),
    (85.4, 86.9), (87.9, 87.2), (90.4, 86.8), (92.8, 87.1),
    (65.4, 85.1), (67.9, 84.8), (70.4, 85.3), (72.9, 84.9), (75.4, 85.2), (77.9, 84.8), (80.4, 85.3),
    (82.9, 84.9), (85.4, 85.2), (87.9, 84.8), (90.6, 85.1),
    (63.0, 83.1), (65.4, 82.8), (67.9, 83.3), (70.4, 82.9), (72.9, 83.2), (75.4, 82.8), (77.9, 83.3),
    (80.4, 82.9), (82.9, 83.2), (85.4, 82.8), (88.0, 83.1),
    (59.0, 81.1), (61.4, 80.8), (63.9, 81.3), (66.4, 80.9), (68.9, 81.2), (71.4, 80.8), (73.9, 81.3),
    (76.4, 80.9), (78.9, 81.2), (81.4, 80.8), (83.9, 81.3), (86.6, 80.9),
    (57.4, 79.1), (59.9, 78.8), (62.4, 79.3), (64.9, 78.9), (67.4, 79.2), (69.9, 78.8), (72.4, 79.3),
    (74.9, 78.9), (77.4, 79.2), (79.9, 78.8), (82.4, 79.3), (85.0, 78.9),
    (54.6, 77.1), (57.4, 76.8), (59.9, 77.3), (62.4, 76.9), (64.9, 77.2), (67.4, 76.8), (69.9, 77.3),
    (72.4, 76.9), (74.9, 77.2), (77.4, 76.8), (79.9, 77.3), (82.6, 76.9),
    (53.9, 75.1), (56.4, 74.8), (58.9, 75.3), (61.4, 74.9), (63.9, 75.2), (66.4, 74.8), (68.9, 75.3),
    (71.4, 74.9), (73.9, 75.2), (76.4, 74.8), (79.0, 75.1),
    (51.9, 73.1), (54.4, 72.8), (56.9, 73.3), (59.4, 72.9), (61.9, 73.2), (64.4, 72.8), (66.9, 73.3),
    (69.4, 72.9), (71.9, 73.2), (74.4, 72.8), (77.0, 73.1),
    (51.4, 71.1), (53.9, 70.8), (56.4, 71.3), (58.9, 70.9), (61.4, 71.2), (63.9, 70.8), (66.4, 71.3),
    (68.9, 70.9), (71.4, 71.2), (74.0, 70.8), (77.0, 71.1),
    (49.4, 69.1), (51.9, 68.8), (54.4, 69.3), (56.9, 68.9), (59.4, 69.2), (61.9, 68.8), (64.4, 69.3),
    (66.9, 68.9), (69.4, 69.2), (72.0, 68.8), (75.4, 69.1),
    (47.9, 67.1), (50.4, 66.8), (52.9, 67.3), (55.4, 66.9), (57.9, 67.2), (60.4, 66.8), (62.9, 67.3),
    (65.4, 66.9), (67.9, 67.2), (70.6, 66.8),
    (46.9, 65.1), (49.4, 64.8), (51.9, 65.3), (54.4, 64.9), (56.9, 65.2), (59.4, 64.8), (61.9, 65.3),
    (64.4, 64.9), (67.0, 65.2), (70.0, 64.8),
    (47.4, 63.1), (49.9, 62.8), (52.4, 63.3), (54.9, 62.9), (57.4, 63.2), (59.9, 62.8), (62.4, 63.3),
    (65.0, 62.9), (45.0, 61.1), (47.4, 60.8), (49.9, 61.3), (52.4, 60.9), (54.9, 61.2), (57.4, 60.8),
    (60.0, 61.3), (63.0, 60.9),
    (45.9, 59.1), (48.4, 58.8), (50.9, 59.3), (53.4, 58.9), (55.9, 59.2), (58.6, 58.8), (61.6, 59.1),
    (46.4, 57.1), (48.9, 56.8), (51.6, 57.3), (54.6, 56.9), (57.6, 57.2), (60.6, 56.8),
    (48.1, 55.1), (51.1, 54.8), (54.1, 55.3), (57.1, 54.9),
    # darkest centre
    (83.0, 89.7), (86.0, 89.2), (89.0, 89.8),
    (78.0, 87.1), (81.0, 87.6), (84.0, 87.0), (87.0, 87.5), (90.0, 87.2),
    (75.0, 85.3), (78.0, 84.8), (81.0, 85.4), (84.0, 84.9), (87.0, 85.3),
    (71.0, 82.7), (74.0, 83.2), (77.0, 82.6), (80.0, 83.1), (83.0, 82.7), (86.0, 83.2),
    (68.0, 80.9), (71.0, 80.4), (74.0, 81.0), (77.0, 80.5), (80.0, 80.9), (83.0, 80.4),
    (65.0, 78.3), (68.0, 78.8), (71.0, 78.2), (74.0, 78.7), (77.0, 78.3), (80.0, 78.8),
    (62.0, 76.5), (65.0, 76.0), (68.0, 76.6), (71.0, 76.1), (74.0, 76.5), (77.0, 76.0),
    (60.0, 73.9), (63.0, 74.4), (66.0, 73.8), (69.0, 74.3), (72.0, 73.9),
    (58.0, 72.1), (61.0, 71.6), (64.0, 72.2), (67.0, 71.7), (70.0, 72.1),
    (56.0, 69.5), (59.0, 70.0), (62.0, 69.4), (65.0, 69.9),
    (54.0, 67.7), (57.0, 67.2), (60.0, 67.8),
]

W, H = 1164, 1163
PANEL_BG = "#DFDFDF"
STRIP_BG = "#C1C1C1"
R_COLOR = "#F26868"
FONT = "Liberation Sans"

col_x = [8, 385, 763]
col_w = 368
row_y = [41, 419, 797]
row_h = [368, 368, 366]


def rect(x, y, w, h):
    # pixel box (top-left origin) -> figure fraction
    return [x / W, 1 - (y + h) / H, w / W, h / H]


def blank(ax, color):
    ax.set_facecolor(color)
    ax.set_xticks([])
    ax.set_yticks([])
    for s in ax.spines.values():
        s.set_visible(False)


fig = plt.figure(figsize=(W / 100, H / 100), dpi=100)
fig.patch.set_facecolor("white")

panels = {}
for i in range(3):
    for j in range(3):
        ax = fig.add_axes(rect(col_x[j], row_y[i], col_w, row_h[i]))
        blank(ax, PANEL_BG)
        ax.set_xlim(0, 110.4)
        ax.set_ylim(0, 110.4)
        panels[(i, j)] = ax

# top strips
for j in range(3):
    sax = fig.add_axes(rect(col_x[j], 6, col_w, 35))
    blank(sax, STRIP_BG)
    sax.text(0.5, 0.45, VARS[j], ha="center", va="center", fontsize=17,
             family=FONT, color="#1A1A1A", transform=sax.transAxes)

# right strips
for i in range(3):
    sax = fig.add_axes(rect(1132, row_y[i], 31, row_h[i]))
    blank(sax, STRIP_BG)
    sax.text(0.5, 0.5, VARS[i], ha="center", va="center", fontsize=17,
             family=FONT, color="#1A1A1A", rotation=-90, transform=sax.transAxes)

# diagonal labels
for k in range(3):
    panels[(k, k)].text(0.5, 0.489, VARS[k], ha="center", va="center", fontsize=25.3,
                        family=FONT, color="black", transform=panels[(k, k)].transAxes)

# correlations
for (i, j), r, fs in [((0, 1), R_12, 18.5), ((0, 2), R_13, 18.5), ((1, 2), R_23, 22.3)]:
    panels[(i, j)].text(0.5, 0.489, f"r = {r:.2f}", ha="center", va="center", fontsize=fs,
                        family=FONT, color=R_COLOR, transform=panels[(i, j)].transAxes)

# scatter panels
for (i, j), pts in [((1, 0), nc_m3_points), ((2, 0), nc_all_points), ((2, 1), m3_all_points)]:
    arr = np.array(pts)
    panels[(i, j)].scatter(arr[:, 0], arr[:, 1], s=20, c="black", alpha=0.58,
                           linewidths=0)

fig.savefig("out.png", dpi=100)
